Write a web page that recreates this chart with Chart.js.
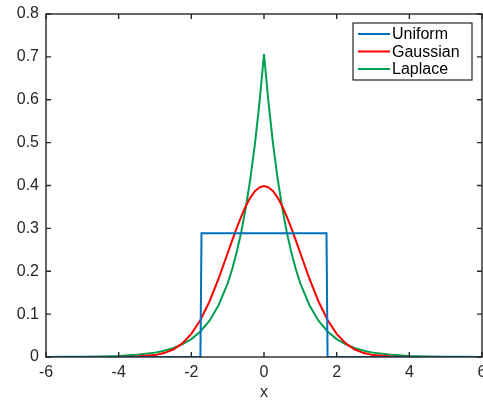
<!DOCTYPE html>
<html>
<head>
<meta charset="utf-8">
<script src="https://cdn.jsdelivr.net/npm/chart.js@4.4.0/dist/chart.umd.min.js"></script>
<style>
  html, body { margin: 0; padding: 0; background: #fff; }
  #wrap { width: 483px; height: 402px; }
</style>
</head>
<body>
<div id="wrap"><canvas id="pdfChart" width="483" height="402"></canvas></div>
<script>
// uniform density (variance 1)
var uniformX = [-6, -1.75, -1.72, 1.72, 1.75, 6];
var uniformY = [0, 0, 0.2887, 0.2887, 0, 0];

// shared x grid for the smooth curves
var curveX = [-6, -5.5, -5, -4.5, -4, -3.5, -3, -2.75, -2.5, -2.25, -2, -1.75, -1.5, -1.25, -1,
  -0.875, -0.75, -0.625, -0.5, -0.375, -0.25, -0.125, 0,
  0.125, 0.25, 0.375, 0.5, 0.625, 0.75, 0.875,
  1, 1.25, 1.5, 1.75, 2, 2.25, 2.5, 2.75, 3, 3.5, 4, 4.5, 5, 5.5, 6];

var gaussY = [0, 0, 0, 0, 0.0001, 0.0009, 0.0044, 0.0091, 0.0175, 0.0317, 0.0540, 0.0863, 0.1295, 0.1826, 0.2420,
  0.2721, 0.3011, 0.3282, 0.3521, 0.3718, 0.3867, 0.3958, 0.3989,
  0.3958, 0.3867, 0.3718, 0.3521, 0.3282, 0.3011, 0.2721,
  0.2420, 0.1826, 0.1295, 0.0863, 0.0540, 0.0317, 0.0175, 0.0091, 0.0044, 0.0009, 0.0001, 0, 0, 0, 0];

var laplaceY = [0.0001, 0.0003, 0.0006, 0.0012, 0.0025, 0.0050, 0.0102, 0.0145, 0.0206, 0.0293, 0.0418, 0.0595, 0.0848, 0.1207, 0.1719,
  0.2051, 0.2448, 0.2922, 0.3487, 0.4161, 0.4965, 0.5925, 0.7071,
  0.5925, 0.4965, 0.4161, 0.3487, 0.2922, 0.2448, 0.2051,
  0.1719, 0.1207, 0.0848, 0.0595, 0.0418, 0.0293, 0.0206, 0.0145, 0.0102, 0.0050, 0.0025, 0.0012, 0.0006, 0.0003, 0.0001];

var seriesNames = ["Uniform", "Gaussian", "Laplace"];
var seriesColors = ["#0072BD", "#FF0000", "#00A050"];

var xTicks = [-6, -4, -2, 0, 2, 4, 6];
var yTicks = [0, 0.1, 0.2, 0.3, 0.4, 0.5, 0.6, 0.7, 0.8];

function pts(xs, ys) {
  return xs.map(function (x, i) { return { x: x, y: ys[i] }; });
}

var axisColor = "#262626";
var fontFamily = "'Liberation Sans', Arial, Helvetica, sans-serif";

// MATLAB style box with inward ticks on all four sides
var boxPlugin = {
  id: "boxAxes",
  afterDatasetsDraw: function (chart) {
    var ctx = chart.ctx, a = chart.chartArea;
    var xs = chart.scales.x, ys = chart.scales.y;
    var tl = 5;
    ctx.save();
    ctx.strokeStyle = axisColor;
    ctx.lineWidth = 1.4;
    ctx.strokeRect(a.left, a.top, a.right - a.left, a.bottom - a.top);
    ctx.beginPath();
    xTicks.forEach(function (v) {
      var px = xs.getPixelForValue(v);
      ctx.moveTo(px, a.bottom); ctx.lineTo(px, a.bottom - tl);
      ctx.moveTo(px, a.top); ctx.lineTo(px, a.top + tl);
    });
    yTicks.forEach(function (v) {
      var py = ys.getPixelForValue(v);
      ctx.moveTo(a.left, py); ctx.lineTo(a.left + tl, py);
      ctx.moveTo(a.right, py); ctx.lineTo(a.right - tl, py);
    });
    ctx.stroke();

    // legend box inside the axes, top right
    var lx = 353, ly = 23, lw = 119, lh = 57;
    ctx.fillStyle = "#fff";
    ctx.fillRect(lx, ly, lw, lh);
    ctx.lineWidth = 1.2;
    ctx.strokeRect(lx, ly, lw, lh);
    ctx.font = "16px " + fontFamily;
    ctx.textBaseline = "middle";
    ctx.textAlign = "left";
    chart.data.datasets.forEach(function (ds, i) {
      var ry = ly + 11 + i * 17.5;
      ctx.strokeStyle = ds.borderColor;
      ctx.lineWidth = 2;
      ctx.beginPath();
      ctx.moveTo(lx + 5, ry); ctx.lineTo(lx + 37, ry);
      ctx.stroke();
      ctx.fillStyle = "#000";
      ctx.fillText(ds.label, lx + 39, ry + 1);
    });
    ctx.restore();
  }
};

new Chart("pdfChart", {
  type: "line",
  data: {
    datasets: [
      { label: seriesNames[0], data: pts(uniformX, uniformY), borderColor: seriesColors[0] },
      { label: seriesNames[1], data: pts(curveX, gaussY), borderColor: seriesColors[1] },
      { label: seriesNames[2], data: pts(curveX, laplaceY), borderColor: seriesColors[2] }
    ]
  },
  options: {
    responsive: false,
    animation: false,
    layout: { padding: { top: 14, right: 1, left: 0, bottom: 0 } },
    elements: {
      point: { radius: 0 },
      line: { borderWidth: 2, tension: 0, fill: false }
    },
    plugins: {
      legend: { display: false },
      tooltip: { enabled: false }
    },
    scales: {
      x: {
        type: "linear",
        min: -6, max: 6,
        afterBuildTicks: function (s) { s.ticks = xTicks.map(function (v) { return { value: v }; }); },
        afterFit: function (s) { s.height = 45; s.paddingLeft = 0; s.paddingRight = 0; },
        grid: { display: false, drawTicks: false },
        border: { display: false },
        ticks: {
          color: "#262626",
          font: { size: 16, family: fontFamily },
          padding: 6,
          maxRotation: 0,
          autoSkip: false
        },
        title: {
          display: true, text: "x",
          color: "#262626",
          font: { size: 16, family: fontFamily },
          padding: { top: 0, bottom: 0 }
        }
      },
      y: {
        min: 0, max: 0.8,
        afterBuildTicks: function (s) { s.ticks = yTicks.map(function (v) { return { value: v }; }); },
        afterFit: function (s) { s.width = 46; s.paddingTop = 0; s.paddingBottom = 0; },
        grid: { display: false, drawTicks: false },
        border: { display: false },
        ticks: {
          color: "#262626",
          font: { size: 16, family: fontFamily },
          padding: 7,
          autoSkip: false,
          callback: function (v) { return v === 0 ? "0" : v.toFixed(1); }
        }
      }
    }
  },
  plugins: [boxPlugin]
});
</script>
</body>
</html>
